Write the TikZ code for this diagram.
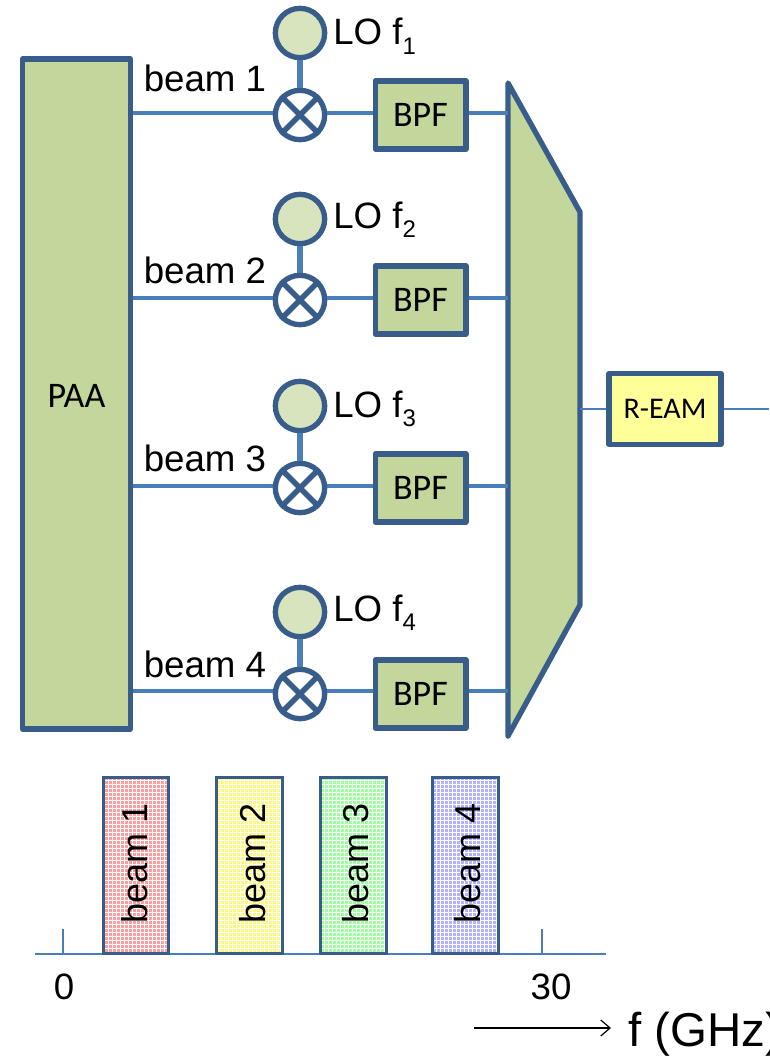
\documentclass[tikz,border=0pt]{standalone}
\usepackage{fontspec}
\setmainfont{Liberation Sans}
\newfontfamily\boxfont{Carlito}
\usepackage{tikz}
\usetikzlibrary{arrows.meta, patterns.meta}
\definecolor{edgeblue}{HTML}{385D8A}
\definecolor{lineblue}{HTML}{4A7EBB}
\definecolor{olive}{HTML}{C3D69B}
\definecolor{palegreen}{HTML}{D7E4BD}
\definecolor{paleyellow}{HTML}{FFFF99}
\newcommand{\lolabel}[1]{LO f\raisebox{-0.26em}{\fontsize{18}{18}\selectfont #1}}

\begin{document}
\begin{tikzpicture}[
      x=0.75pt, y=-0.75pt,
      block/.style={draw=edgeblue, line width=4pt, line join=round, fill=olive,
                    font=\boxfont\fontsize{27}{27}\selectfont},
      osc/.style={draw=edgeblue, line width=4pt, circle, inner sep=0pt,
                  minimum size=37pt, fill=palegreen},
      mixer/.style={osc, fill=white},
      txt/.style={font=\fontsize{27.5}{30}\selectfont, inner sep=0pt},
      link/.style={lineblue, line width=3.4pt},
      thin link/.style={lineblue, line width=1.5pt},
      bar/.style={draw=edgeblue, line width=2.4pt, minimum width=49pt,
                  minimum height=132pt, preaction={fill=#1},
                  preaction={pattern={Lines[angle=0, distance=3pt, line width=0.6pt]}, pattern color=white},
                  preaction={pattern={Lines[angle=90, distance=3pt, line width=0.6pt]}, pattern color=white}}
    ]
    \useasboundingbox (0,0) rectangle (769,1056);
    \node[block, minimum width=81pt, minimum height=502.5pt] (paa) at (76.5,394) {};
    \node[font=\boxfont\fontsize{27}{27}\selectfont] (paalabel) at (76.5,396) {PAA};
    \coordinate (muxnw) at (508,83);
    \coordinate (muxne) at (580,212);
    \coordinate (muxse) at (580,605);
    \coordinate (muxsw) at (508,736);
    \draw[draw=edgeblue, line width=4pt, line join=round, fill=olive]
      (muxnw) -- (muxne) -- (muxse) -- (muxsw) -- cycle;

    \foreach \i/\lo/\lotxt/\beamtxt/\mix/\run in {1/33/45/92/115/113, 2/219/228/283/300/298,
                                                  3/406/417/471/488/486, 4/612/621/677/694/691} {
      \node[osc] (lo\i) at (300,\lo) {};
      \node[mixer] (mix\i) at (300,\mix) {};
      \draw[edgeblue, line width=4pt] (mix\i.45) -- (mix\i.225) (mix\i.135) -- (mix\i.315);
      \node[block, minimum width=68pt, minimum height=51pt] (bpf\i) at (420.5,\mix) {BPF};
      \node[txt, anchor=base west] (lolabel\i) at (333,\lotxt) {\lolabel{\i}};
      \node[txt, anchor=base west] (beam\i) at (143.5,\beamtxt) {beam \i};
      \coordinate (run\i) at (300,\run);
      \draw[link] (run\i -| paa.east) -- (run\i -| mix\i.west);
      \draw[link] (run\i -| mix\i.east) -- (run\i -| bpf\i.west);
      \draw[link] (run\i -| bpf\i.east) -- (run\i -| muxnw);
      \draw[link, line width=5pt] (lo\i) -- (mix\i);
    }

    \node[block, fill=paleyellow, minimum width=84pt, minimum height=53pt,
          font=\boxfont\fontsize{22.5}{22.5}\selectfont] (ream) at (665,409) {R-EAM};
    \coordinate (muxout) at (580,409);
    \coordinate (fibre) at (769,409);
    \draw[thin link] (muxout) -- (ream);
    \draw[thin link] (ream) -- (fibre);

    \coordinate (axisl) at (35,954);
    \coordinate (axisr) at (606,954);
    \coordinate (tick0) at (63,954);
    \coordinate (tick30) at (542,954);
    \coordinate (top0) at (63,929);
    \coordinate (top30) at (542,929);
    \draw[thin link] (axisl) -- (axisr);
    \draw[thin link] (tick0) -- (top0);
    \draw[thin link] (tick30) -- (top30);

    \node[bar=red!38] (bar1) at (136,865.5) {};
    \node[bar=yellow!50] (bar2) at (249.5,865.5) {};
    \node[bar=green!38] (bar3) at (353.5,865.5) {};
    \node[bar=blue!30] (bar4) at (465.5,865.5) {};
    \foreach \i/\x in {1/147, 2/265, 3/368, 4/480}
      \node[txt, font=\fontsize{27}{30}\selectfont, rotate=90, anchor=base west] (barlabel\i) at (\x,924) {beam \i};

    \node[txt, anchor=base] (zero) at (64,999) {0};
    \node[txt, anchor=base] (thirty) at (551,999) {30};
    \coordinate (fstart) at (474,1028);
    \node[txt, anchor=base west, font=\fontsize{35.6}{40}\selectfont] (flabel) at (628,1046) {f (GHz)};
    \coordinate (fend) at (611,1028);
    \draw[-{Straight Barb[length=7pt, width=12pt]}, line width=0.9pt] (fstart) -- (fend);
  \end{tikzpicture}
\end{document}
